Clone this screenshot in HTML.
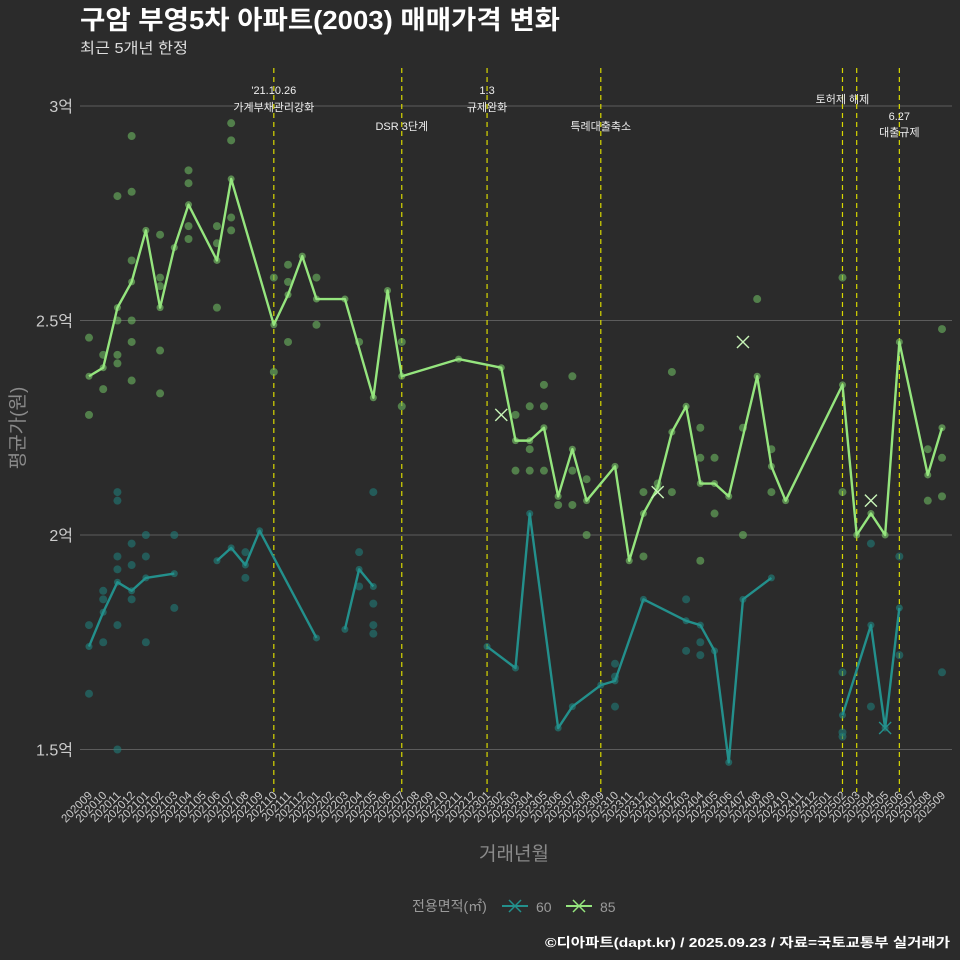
<!DOCTYPE html>
<html><head><meta charset="utf-8">
<style>
html,body{margin:0;padding:0;background:#2b2b2b;}
svg{display:block;font-family:"Liberation Sans","Noto Sans CJK KR",sans-serif;}
</style></head>
<body>
<svg id="chart" width="960" height="960" viewBox="0 0 960 960" xmlns="http://www.w3.org/2000/svg">
<rect width="960" height="960" fill="#2b2b2b"/>
<text x="80" y="29" fill="#ffffff" font-size="26" font-weight="bold" textLength="480" lengthAdjust="spacingAndGlyphs">구암 부영5차 아파트(2003) 매매가격 변화</text>
<text x="80" y="53" fill="#dddddd" font-size="15" textLength="108" lengthAdjust="spacingAndGlyphs">최근 5개년 한정</text>
<g id="grid"></g><g id="vlines"></g><g id="dots"></g><g id="lines"></g><g id="marks"></g><g id="axes"></g>
<text x="514" y="860" fill="#8a8a8a" font-size="19" text-anchor="middle">거래년월</text>
<text transform="translate(24,428) rotate(-90)" fill="#8a8a8a" font-size="19" text-anchor="middle">평균가(원)</text>
<g>
<text x="412" y="911" fill="#9a9a9a" font-size="14">전용면적(㎡)</text>
<g>
<line x1="502" y1="906" x2="528" y2="906" stroke="#23908c" stroke-width="2"/>
<path d="M509 900 L521 912 M521 900 L509 912" stroke="#23908c" stroke-width="1.5"/>
<text x="536" y="912" fill="#9a9a9a" font-size="14">60</text></g>
<g>
<line x1="566" y1="906" x2="592" y2="906" stroke="#95e57e" stroke-width="2"/>
<path d="M573 900 L585 912 M585 900 L573 912" stroke="#95e57e" stroke-width="1.5"/>
<text x="600" y="912" fill="#9a9a9a" font-size="14">85</text></g>
</g>
<text x="950" y="947" fill="#ffffff" font-size="13" font-weight="bold" text-anchor="end" textLength="405" lengthAdjust="spacingAndGlyphs">©디아파트(dapt.kr) / 2025.09.23 / 자료=국토교통부 실거래가</text>
</svg>
<script>
const NS="http://www.w3.org/2000/svg";
const months=[];for(let y=2020,m=9;months.length<61;){months.push(y+String(m).padStart(2,'0'));m++;if(m>12){m=1;y++;}}
const yTicks=[1.5,2,2.5,3];
const yTickLabels=["1.5억","2억","2.5억","3억"];
const values85=[2.37,2.39,2.53,2.59,2.71,2.53,2.67,2.77,null,2.64,2.83,null,null,2.49,2.56,2.65,2.55,null,2.55,null,2.32,2.57,2.37,null,null,null,2.41,null,null,2.39,2.22,2.22,2.25,2.09,2.20,2.08,null,2.16,1.94,2.05,2.11,2.24,2.30,2.12,2.12,2.09,null,2.37,2.16,2.08,null,null,null,2.35,2.00,2.05,2.00,2.45,null,2.14,2.25];
const months60=[0,1,2,3,4,6,9,10,11,12,16,18,19,20,28,30,31,33,34,36,37,39,42,43,44,45,46,48,53,55,56,57];
const values60=[1.74,1.82,1.89,1.87,1.90,1.91,1.94,1.97,1.93,2.01,1.76,1.78,1.92,1.88,1.74,1.69,2.05,1.55,1.60,1.65,1.66,1.85,1.80,1.79,1.73,1.47,1.85,1.90,1.58,1.79,1.55,1.83];
const breaks60=[6,16,20,48];
const dots85M=[0,0,1,1,2,2,2,2,3,3,3,3,3,3,5,5,5,5,5,7,7,7,7,9,9,9,10,10,10,10,13,13,14,14,14,16,16,19,22,22,30,31,31,31,30,32,32,32,34,34,34,35,35,33,39,39,40,41,41,43,43,44,44,43,46,46,47,48,48,53,53,59,59,60,60,60];
const dots85V=[2.46,2.28,2.42,2.34,2.79,2.50,2.42,2.40,2.93,2.80,2.64,2.50,2.45,2.36,2.70,2.60,2.58,2.43,2.33,2.85,2.82,2.72,2.69,2.72,2.68,2.53,2.96,2.92,2.74,2.71,2.60,2.38,2.63,2.59,2.45,2.60,2.49,2.45,2.45,2.30,2.28,2.30,2.20,2.15,2.15,2.35,2.30,2.15,2.37,2.15,2.07,2.13,2.00,2.07,2.10,1.95,2.12,2.10,2.38,2.25,2.18,2.18,2.05,1.94,2.25,2.00,2.55,2.20,2.10,2.10,2.60,2.20,2.08,2.18,2.09,2.48];
const dots60M=[2,2,2,2,2,2,3,3,3,4,4,4,6,6,0,0,1,1,1,11,11,20,19,19,20,20,20,37,37,37,42,42,43,43,53,53,53,55,55,57,57,60];
const dots60V=[2.10,2.08,1.95,1.92,1.79,1.50,1.98,1.93,1.85,2.00,1.95,1.75,2.00,1.83,1.79,1.63,1.87,1.85,1.75,1.96,1.90,2.10,1.96,1.88,1.84,1.79,1.77,1.70,1.67,1.60,1.85,1.73,1.75,1.72,1.68,1.54,1.53,1.98,1.60,1.95,1.72,1.68];
const x85M=[29,46,55,40], x85V=[2.28,2.45,2.08,2.10];
const x60M=[56], x60V=[1.55];
const eventMonths=[13,22,28,36,53,54,57];
const eventLabels=[["'21.10.26","가계부채관리강화"],["","DSR 3단계"],["1.3","규제완화"],["","특례대출축소"],["토허제 해제",""],["",""],["6.27","대출규제"]];
const xS=i=>89+i*(942-89)/60;
const yS=v=>535-(v-2)*429;
const C85="#95e57e",C60="#23908c";
function el(t,a,p){const e=document.createElementNS(NS,t);for(const k in a)e.setAttribute(k,a[k]);document.getElementById(p).appendChild(e);return e;}
yTicks.forEach((v,i)=>{
 const g=el('line',{x1:80,x2:952,y1:yS(v),y2:yS(v),stroke:'#5c5c5c','stroke-width':1},'grid');
 
 
 const t=el('text',{x:73,y:yS(v)+6,fill:'#cccccc','font-size':16,'text-anchor':'end'},'axes');t.textContent=yTickLabels[i];
 
 
});
months.forEach((m,i)=>{
 const t=el('text',{transform:`translate(${xS(i)+4},${796}) rotate(-45)`,fill:'#cccccc','font-size':11.5,'text-anchor':'end'},'axes');t.textContent=m;
 
 
});
eventMonths.forEach((m,i)=>{
 const l=el('line',{x1:xS(m),x2:xS(m),y1:68,y2:792,stroke:'#d8d800','stroke-width':1.2,'stroke-dasharray':'5,4'},'vlines');
 
 
 const [a,b]=eventLabels[i];let y1=94,y2=111;
 if(!a&&b){y2=130;} if(m===53){y1=103;} if(m===57){y1=120;y2=136;}
 if(a){const t=el('text',{x:xS(m),y:y1,fill:'#eeeeee','font-size':11,'text-anchor':'middle'},'vlines');t.textContent=a;
  
  }
 if(b){const t=el('text',{x:xS(m),y:y2,fill:'#eeeeee','font-size':11,'text-anchor':'middle'},'vlines');t.textContent=b;
  
  }
});
dots85M.forEach((m,i)=>{const c=el('circle',{cx:xS(m),cy:yS(dots85V[i]),r:4,fill:'#6db860','fill-opacity':0.6},'dots');
 
 });
dots60M.forEach((m,i)=>{const c=el('circle',{cx:xS(m),cy:yS(dots60V[i]),r:4,fill:'#1f7b78','fill-opacity':0.6},'dots');
 
 });
let d='';values85.forEach((v,i)=>{if(v==null)return;d+=(d?'L':'M')+xS(i)+' '+yS(v);
 const c=el('circle',{cx:xS(i),cy:yS(v),r:3.5,fill:'#7cc96a','fill-opacity':0.6},'dots');
 
 });
const p85=el('path',{d:d,fill:'none',stroke:C85,'stroke-width':2.4,'stroke-linejoin':'round'},'lines');


d='';let start=true;
months60.forEach((m,i)=>{d+=(start?'M':'L')+xS(m)+' '+yS(values60[i]);start=breaks60.includes(m);
 const c=el('circle',{cx:xS(m),cy:yS(values60[i]),r:3.5,fill:'#1f8581','fill-opacity':0.6},'dots');
 
 });
const p60=el('path',{d:d,fill:'none',stroke:C60,'stroke-width':2.4,'stroke-linejoin':'round'},'lines');


function xm(m,v,c){const x=xS(m),y=yS(v);
 const p=el('path',{d:`M${x-6} ${y-6}L${x+6} ${y+6}M${x+6} ${y-6}L${x-6} ${y+6}`,stroke:c,'stroke-width':1.4},'marks');
 
 }
x85M.forEach((m,i)=>xm(m,x85V[i],'#c8f5b8'));
x60M.forEach((m,i)=>xm(m,x60V[i],C60));
</script>
</body></html>
